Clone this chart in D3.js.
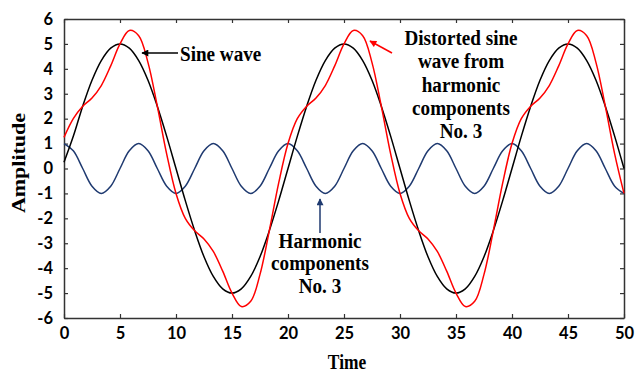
<!DOCTYPE html>
<html>
<head>
<meta charset="utf-8">
<script src="https://cdn.jsdelivr.net/npm/d3@7"></script>
<style>
  body { margin: 0; background: #fff; }
  svg { display: block; }
  .tick text { font-family: Lato, "Open Sans", sans-serif; font-weight: 700; font-size: 16.5px; fill: #000; }
  .lbl { font-family: "Liberation Serif", "Times New Roman", serif; font-weight: 700; font-size: 22px; fill: #000; }
</style>
</head>
<body>
<div id="chart"></div>
<script>
// time samples
var time = [0,0.83,1.67,2.5,3.33,4.17,5,5.83,6.67,7.5,8.33,9.17,
  10,10.83,11.67,12.5,13.33,14.17,15,15.83,16.67,17.5,18.33,19.17,
  20,20.83,21.67,22.5,23.33,24.17,25,25.83,26.67,27.5,28.33,29.17,
  30,30.83,31.67,32.5,33.33,34.17,35,35.83,36.67,37.5,38.33,39.17,
  40,40.83,41.67,42.5,43.33,44.17,45,45.83,46.67,47.5,48.33,49.17,50];

var sineWave = [0.25,1.29,2.5,3.54,4.33,4.83,5,4.83,4.33,3.54,2.5,1.29,
  0,-1.29,-2.5,-3.54,-4.33,-4.83,-5,-4.83,-4.33,-3.54,-2.5,-1.29,
  0,1.29,2.5,3.54,4.33,4.83,5,4.83,4.33,3.54,2.5,1.29,
  0,-1.29,-2.5,-3.54,-4.33,-4.83,-5,-4.83,-4.33,-3.54,-2.5,-1.29,
  0,1.29,2.5,3.54,4.33,4.83,5,4.83,4.33,3.54,2.5,1.29,0];

var harmonic = [1,0.71,0,-0.71,-1,-0.71,0,0.71,1,0.71,0,-0.71,
  -1,-0.71,0,0.71,1,0.71,0,-0.71,-1,-0.71,0,0.71,
  1,0.71,0,-0.71,-1,-0.71,0,0.71,1,0.71,0,-0.71,
  -1,-0.71,0,0.71,1,0.71,0,-0.71,-1,-0.71,0,0.71,
  1,0.71,0,-0.71,-1,-0.71,0,0.71,1,0.71,0,-0.71,-1];

var distorted = [1.25,2.0,2.5,2.83,3.33,4.12,5,5.54,5.33,4.25,2.5,0.58,
  -1,-2.0,-2.5,-2.83,-3.33,-4.12,-5,-5.54,-5.33,-4.25,-2.5,-0.58,
  1,2.0,2.5,2.83,3.33,4.12,5,5.54,5.33,4.25,2.5,0.58,
  -1,-2.0,-2.5,-2.83,-3.33,-4.12,-5,-5.54,-5.33,-4.25,-2.5,-0.58,
  1,2.0,2.5,2.83,3.33,4.12,5,5.54,5.33,4.25,2.5,0.58,-1];

var xTicks = [0,5,10,15,20,25,30,35,40,45,50];
var yTicks = [-6,-5,-4,-3,-2,-1,0,1,2,3,4,5,6];

var width = 635, height = 374;
var plotLeft = 64, plotRight = 624, plotTop = 19, plotBottom = 318;

var svg = d3.select("#chart").append("svg")
  .attr("width", width).attr("height", height);

var x = d3.scaleLinear().domain([0, 50]).range([plotLeft, plotRight]);
var y = d3.scaleLinear().domain([-6, 6]).range([plotBottom, plotTop]);

// arrow heads
var defs = svg.append("defs");
[["ah-black", "#000"], ["ah-red", "#ff0000"], ["ah-navy", "#1f3a70"]].forEach(function(m) {
  defs.append("marker")
    .attr("id", m[0])
    .attr("viewBox", "0 0 10 10")
    .attr("refX", 9).attr("refY", 5)
    .attr("markerWidth", 9).attr("markerHeight", 7)
    .attr("markerUnits", "userSpaceOnUse")
    .attr("orient", "auto")
    .append("path").attr("d", "M0,0 L10,5 L0,10 z").attr("fill", m[1]);
});

// axes, ticks pointing inward on all four sides
var fmt = function(d) { return String(d); };
svg.append("g").attr("transform", "translate(0," + plotBottom + ")")
  .call(d3.axisBottom(x).tickValues(xTicks).tickFormat(fmt).tickSizeInner(-4).tickSizeOuter(0).tickPadding(9));
svg.append("g").attr("transform", "translate(0," + plotTop + ")")
  .call(d3.axisTop(x).tickValues(xTicks).tickFormat("").tickSizeInner(-4).tickSizeOuter(0));
svg.append("g").attr("transform", "translate(" + plotLeft + ",0)")
  .call(d3.axisLeft(y).tickValues(yTicks).tickFormat(fmt).tickSizeInner(-4).tickSizeOuter(0).tickPadding(11));
svg.append("g").attr("transform", "translate(" + plotRight + ",0)")
  .call(d3.axisRight(y).tickValues(yTicks).tickFormat("").tickSizeInner(-4).tickSizeOuter(0));

svg.selectAll(".domain").attr("stroke", "#333").attr("stroke-width", 1.5);
svg.selectAll(".tick line").attr("stroke", "#333").attr("stroke-width", 1.2);

// curves
var line = d3.line()
  .x(function(d) { return x(d[0]); })
  .y(function(d) { return y(d[1]); })
  .curve(d3.curveCatmullRom.alpha(0.5));

function series(vals) { return time.map(function(t, i) { return [t, vals[i]]; }); }

svg.append("path").datum(series(harmonic))
  .attr("d", line).attr("fill", "none").attr("stroke", "#1f3a70").attr("stroke-width", 1.5);
svg.append("path").datum(series(sineWave))
  .attr("d", line).attr("fill", "none").attr("stroke", "#000").attr("stroke-width", 1.5);
svg.append("path").datum(series(distorted))
  .attr("d", line).attr("fill", "none").attr("stroke", "#ff0000").attr("stroke-width", 1.5);

// text helper: Times-like bold, squeezed horizontally like the original
function label(tx, ty, lines, dy) {
  var g = svg.append("g").attr("transform", "translate(" + tx + "," + ty + ") scale(0.87,1)");
  lines.forEach(function(s, i) {
    g.append("text").attr("class", "lbl").attr("text-anchor", "middle")
      .attr("y", i * dy).text(s);
  });
  return g;
}

// axis titles
svg.append("g").attr("transform", "translate(25,163) scale(0.87,1) rotate(-90)")
  .append("text").attr("class", "lbl").attr("text-anchor", "middle").text("Amplitude");
svg.append("g").attr("transform", "translate(347,369) scale(0.87,1)")
  .append("text").attr("class", "lbl").attr("text-anchor", "middle").style("font-size", "20px").text("Time");

// annotations
svg.append("g").attr("transform", "translate(180,61) scale(0.87,1)")
  .append("text").attr("class", "lbl").text("Sine wave");
svg.append("line").attr("x1", 178).attr("y1", 53).attr("x2", 142).attr("y2", 53)
  .attr("stroke", "#000").attr("stroke-width", 1.5).attr("marker-end", "url(#ah-black)");

label(461, 45, ["Distorted sine", "wave from", "harmonic", "components", "No. 3"], 23.3);
svg.append("line").attr("x1", 392).attr("y1", 53).attr("x2", 370).attr("y2", 41)
  .attr("stroke", "#ff0000").attr("stroke-width", 1.5).attr("marker-end", "url(#ah-red)");

label(320, 248, ["Harmonic", "components", "No. 3"], 22.3);
svg.append("line").attr("x1", 320).attr("y1", 233).attr("x2", 320).attr("y2", 199)
  .attr("stroke", "#1f3a70").attr("stroke-width", 1.5).attr("marker-end", "url(#ah-navy)");
</script>
</body>
</html>
